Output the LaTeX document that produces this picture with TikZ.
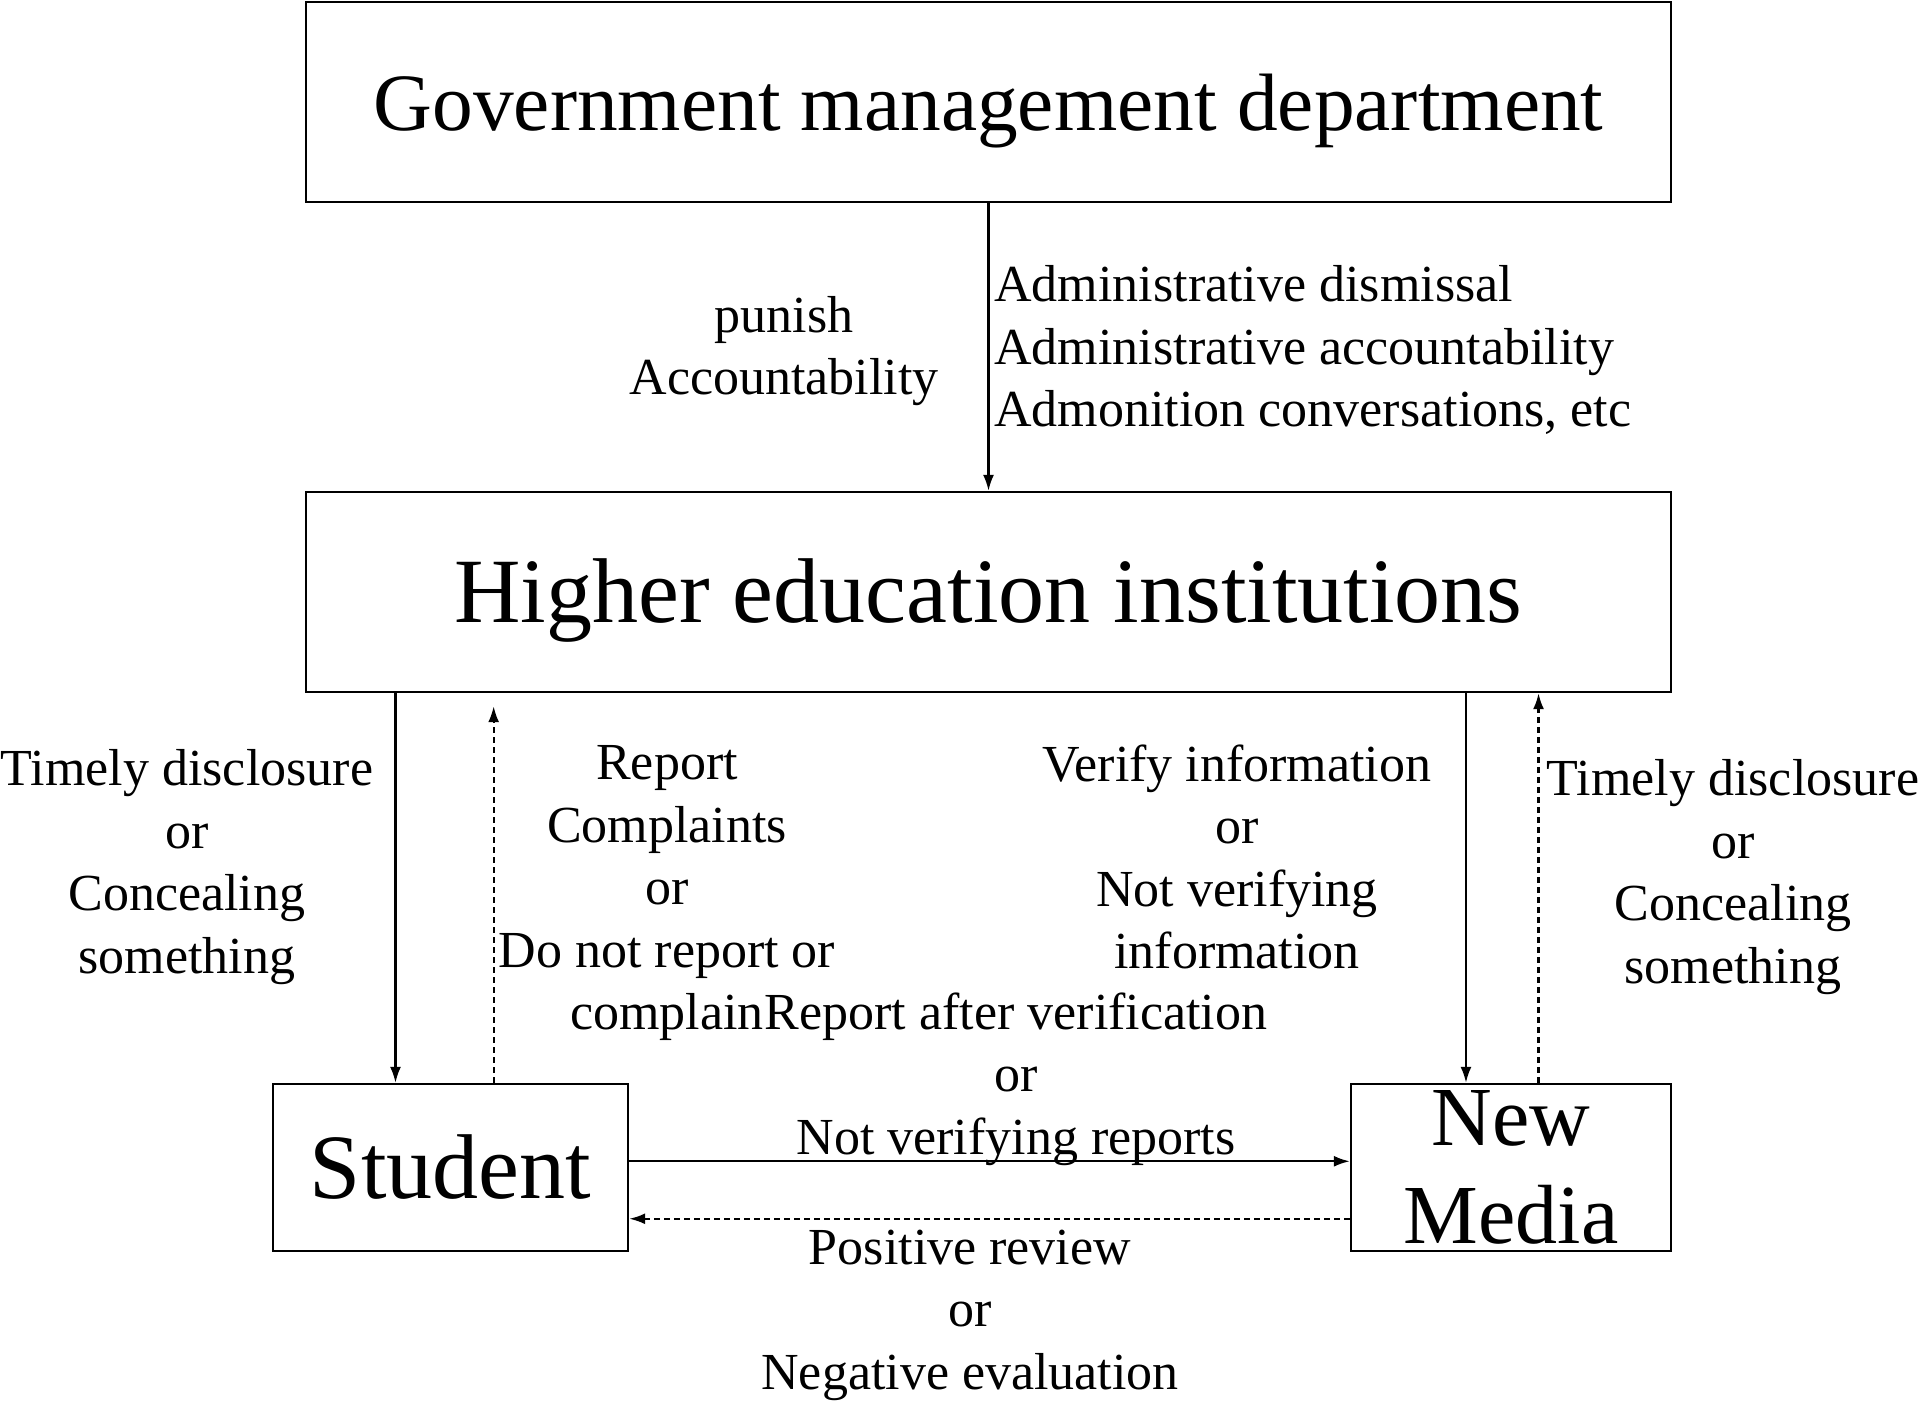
\documentclass[tikz,border=0pt]{standalone}
\usepackage{fontspec}
\setmainfont{Liberation Serif}
\usetikzlibrary{arrows.meta, calc}
\tikzset{entity/.style={draw,line width=1.2pt,inner sep=0pt,align=center},
         note/.style={inner sep=0pt,align=center,font=\fontsize{26}{31.25}\selectfont},
         flow/.style={-{Latex[length=8pt,width=5.5pt]},line width=1.1pt},
         back/.style={flow,dash pattern=on 3pt off 2pt},
        }

\begin{document}
\begin{tikzpicture}[x=0.5pt,y=-0.5pt]
        \useasboundingbox(0,0)rectangle(1920,1404);
        \node[entity,minimum width=682.5pt,minimum height=100pt,text height=37pt,font=\fontsize{40.7}{48}\selectfont](gov)at(988.5,102){Government management department};
        \node[entity,minimum width=682.5pt,minimum height=100pt,text height=40pt,font=\fontsize{46}{54}\selectfont](hei)at(988.5,592){Higher education institutions};
        \node[entity,minimum width=177.5pt,minimum height=83.5pt,font=\fontsize{46}{54}\selectfont](stu)at(450.5,1167.5){Student};
        \node[entity,minimum width=160pt,minimum height=83.5pt,font=\fontsize{42}{49}\selectfont](nm)at(1511,1167.5){New\\Media};

        \node[note](pun)at(784,351){punish\\Accountability};
        \node[note,anchor=west,align=left](adm)at(994,350){Administrative dismissal\\Administrative accountability\\Admonition conversations, etc};
        \node[note](tdl)at(187,867){Timely disclosure\\or\\Concealing\\something};
        \node[note](rep)at(667,893){Report\\Complaints\\or\\Do not report or\\complain};
        \node[note](rav)at(1016,1079){Report after verification\\or\\Not verifying reports};
        \node[note](ver)at(1237,857){Verify information\\or\\Not verifying\\information};
        \node[note](tdr)at(1733,877){Timely disclosure\\or\\Concealing\\something};
        \node[note](pos)at(970,1315){Positive review\\or\\Negative evaluation};

        \draw[flow](gov.south)--(hei.north);
        \draw[flow](stu.123 |- hei.south)--(stu.123);
        \draw[back](stu.63)--($(stu.63 |- hei.south)+(0,13)$);
        \draw[flow](nm.118 |- hei.south)--(nm.118);
        \draw[back](nm.72)--(nm.72 |- hei.south);
        \draw[flow](stu.2)--(stu.2 -| nm.west);
        \draw[back](nm.west |- stu.-16)--(stu.-16);
\end{tikzpicture}
\end{document}
